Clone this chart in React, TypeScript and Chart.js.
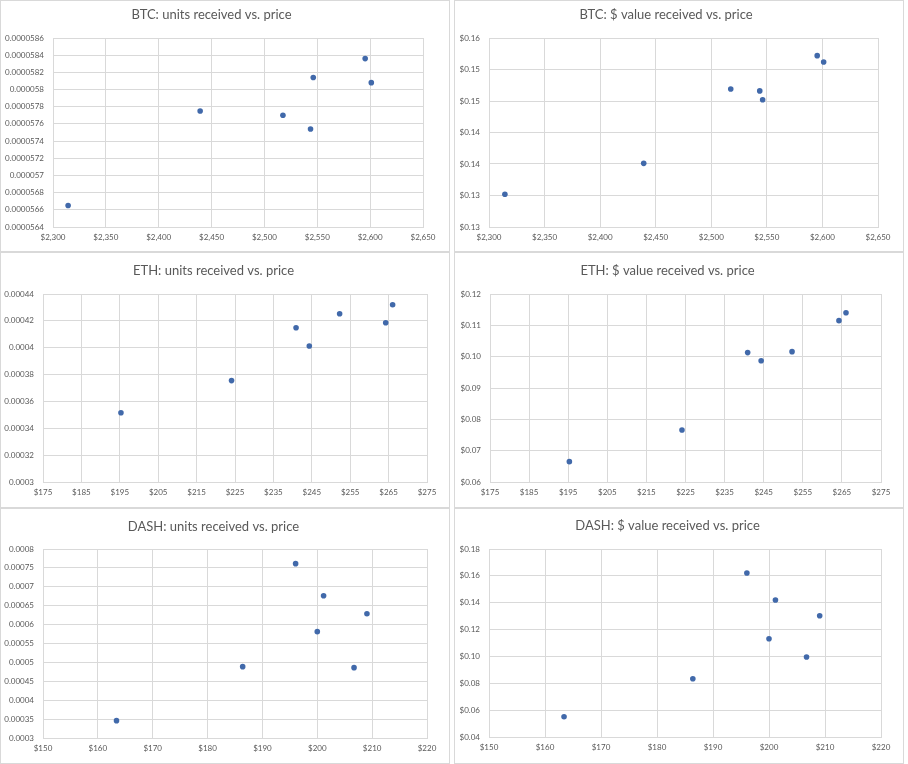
import React, { useEffect, useRef } from "react";
import { Chart, registerables } from "chart.js";

Chart.register(...registerables);

// ---------- DATA ----------
const btcPrice = [2314.3, 2439.2, 2517.5, 2543.6, 2546.2, 2595.3, 2601.1];
const btcUnits = [0.00005665, 0.00005775, 0.0000577, 0.00005754, 0.00005814, 0.00005836, 0.00005808];
const btcValue = [0.1302, 0.1351, 0.1469, 0.1466, 0.1452, 0.1522, 0.1512];

const ethPrice = [195.3, 224.1, 240.9, 244.35, 252.25, 264.25, 266.05];
const ethUnits = [0.0003516, 0.0003755, 0.0004149, 0.0004013, 0.0004253, 0.0004186, 0.000432];
const ethValue = [0.0665, 0.0766, 0.1013, 0.0987, 0.1016, 0.1115, 0.114];

const dashPrice = [163.4, 186.4, 196.05, 200.0, 201.15, 206.7, 209.05];
const dashUnits = [0.0003459, 0.0004887, 0.0007612, 0.0005813, 0.0006765, 0.0004861, 0.0006289];
const dashValue = [0.0551, 0.0834, 0.1621, 0.1132, 0.142, 0.0996, 0.1303];

const btcPriceTicks = [2300, 2350, 2400, 2450, 2500, 2550, 2600, 2650];
const btcPriceLabels = ["$2,300", "$2,350", "$2,400", "$2,450", "$2,500", "$2,550", "$2,600", "$2,650"];
const ethPriceTicks = [175, 185, 195, 205, 215, 225, 235, 245, 255, 265, 275];
const ethPriceLabels = ["$175", "$185", "$195", "$205", "$215", "$225", "$235", "$245", "$255", "$265", "$275"];
const dashPriceTicks = [150, 160, 170, 180, 190, 200, 210, 220];
const dashPriceLabels = ["$150", "$160", "$170", "$180", "$190", "$200", "$210", "$220"];

const btcUnitsTicks = [0.0000564, 0.0000566, 0.0000568, 0.000057, 0.0000572, 0.0000574, 0.0000576, 0.0000578, 0.000058, 0.0000582, 0.0000584, 0.0000586];
const btcUnitsLabels = ["0.0000564", "0.0000566", "0.0000568", "0.000057", "0.0000572", "0.0000574", "0.0000576", "0.0000578", "0.000058", "0.0000582", "0.0000584", "0.0000586"];
const btcValueTicks = [0.125, 0.13, 0.135, 0.14, 0.145, 0.15, 0.155];
const btcValueLabels = ["$0.13", "$0.13", "$0.14", "$0.14", "$0.15", "$0.15", "$0.16"];
const ethUnitsTicks = [0.0003, 0.00032, 0.00034, 0.00036, 0.00038, 0.0004, 0.00042, 0.00044];
const ethUnitsLabels = ["0.0003", "0.00032", "0.00034", "0.00036", "0.00038", "0.0004", "0.00042", "0.00044"];
const ethValueTicks = [0.06, 0.07, 0.08, 0.09, 0.1, 0.11, 0.12];
const ethValueLabels = ["$0.06", "$0.07", "$0.08", "$0.09", "$0.10", "$0.11", "$0.12"];
const dashUnitsTicks = [0.0003, 0.00035, 0.0004, 0.00045, 0.0005, 0.00055, 0.0006, 0.00065, 0.0007, 0.00075, 0.0008];
const dashUnitsLabels = ["0.0003", "0.00035", "0.0004", "0.00045", "0.0005", "0.00055", "0.0006", "0.00065", "0.0007", "0.00075", "0.0008"];
const dashValueTicks = [0.04, 0.06, 0.08, 0.1, 0.12, 0.14, 0.16, 0.18];
const dashValueLabels = ["$0.04", "$0.06", "$0.08", "$0.10", "$0.12", "$0.14", "$0.16", "$0.18"];

const titles = [
  "BTC: units received vs. price",
  "BTC: $ value received vs. price",
  "ETH: units received vs. price",
  "ETH: $ value received vs. price",
  "DASH: units received vs. price",
  "DASH: $ value received vs. price",
];

// ---------- LAYOUT / STYLE ----------
const FONT = "Lato, 'Open Sans', sans-serif";
const TEXT = "#595959";
const GRID = "#d9d9d9";
const DOT = "#4169aa";

type PanelCfg = {
  title: string;
  x: number[];
  y: number[];
  xTicks: number[];
  xLabels: string[];
  yTicks: number[];
  yLabels: string[];
  box: [number, number, number, number]; // left, top, width, height
  plot: [number, number, number, number]; // left, top, right, bottom (relative)
  titleCy: number;
};

const panels: PanelCfg[] = [
  { title: titles[0], x: btcPrice, y: btcUnits, xTicks: btcPriceTicks, xLabels: btcPriceLabels, yTicks: btcUnitsTicks, yLabels: btcUnitsLabels, box: [0, 0, 450, 252], plot: [53, 38, 423, 227], titleCy: 15 },
  { title: titles[1], x: btcPrice, y: btcValue, xTicks: btcPriceTicks, xLabels: btcPriceLabels, yTicks: btcValueTicks, yLabels: btcValueLabels, box: [454, 0, 450, 252], plot: [35, 38, 424, 227], titleCy: 15 },
  { title: titles[2], x: ethPrice, y: ethUnits, xTicks: ethPriceTicks, xLabels: ethPriceLabels, yTicks: ethUnitsTicks, yLabels: ethUnitsLabels, box: [0, 252, 450, 256], plot: [43, 42, 427, 230], titleCy: 19 },
  { title: titles[3], x: ethPrice, y: ethValue, xTicks: ethPriceTicks, xLabels: ethPriceLabels, yTicks: ethValueTicks, yLabels: ethValueLabels, box: [454, 252, 450, 256], plot: [36, 42, 427, 230], titleCy: 19 },
  { title: titles[4], x: dashPrice, y: dashUnits, xTicks: dashPriceTicks, xLabels: dashPriceLabels, yTicks: dashUnitsTicks, yLabels: dashUnitsLabels, box: [0, 508, 450, 256], plot: [43, 41, 427, 230], titleCy: 19 },
  { title: titles[5], x: dashPrice, y: dashValue, xTicks: dashPriceTicks, xLabels: dashPriceLabels, yTicks: dashValueTicks, yLabels: dashValueLabels, box: [454, 508, 450, 256], plot: [35, 41, 427, 229], titleCy: 18 },
];

function ScatterPanel({ cfg }: { cfg: PanelCfg }) {
  const ref = useRef<HTMLCanvasElement>(null);
  const [bx, by, W, H] = cfg.box;
  const [L, T, R, B] = cfg.plot;

  useEffect(() => {
    const titleSize = 13;
    const lh = titleSize * 1.2;
    const tickFont = { family: FONT, size: 8 };
    const chart = new Chart(ref.current!, {
      type: "scatter",
      data: {
        datasets: [
          {
            data: cfg.x.map((x, i) => ({ x, y: cfg.y[i] })),
            backgroundColor: DOT,
            borderColor: DOT,
            borderWidth: 0,
            pointRadius: 2.8,
            pointHoverRadius: 2.8,
          },
        ],
      },
      options: {
        responsive: false,
        animation: false,
        devicePixelRatio: 1,
        events: [],
        layout: { padding: { top: 0, left: 0, right: W - R, bottom: 0 } },
        plugins: {
          legend: { display: false },
          tooltip: { enabled: false },
          title: {
            display: true,
            text: cfg.title,
            color: TEXT,
            font: { family: FONT, size: titleSize, weight: "normal", lineHeight: 1.2 },
            padding: { top: cfg.titleCy - lh / 2, bottom: T - cfg.titleCy - lh / 2 },
          },
        },
        scales: {
          x: {
            type: "linear",
            min: cfg.xTicks[0],
            max: cfg.xTicks[cfg.xTicks.length - 1],
            afterBuildTicks: (s: any) => {
              s.ticks = cfg.xTicks.map((v) => ({ value: v }));
            },
            afterFit: (s: any) => {
              s.height = H - B;
            },
            ticks: {
              autoSkip: false,
              maxRotation: 0,
              padding: 6,
              color: TEXT,
              font: tickFont,
              callback: (_v: any, i: number) => cfg.xLabels[i],
            },
            grid: { color: GRID, lineWidth: 1, drawTicks: false },
            border: { color: GRID, width: 1 },
          },
          y: {
            type: "linear",
            min: cfg.yTicks[0],
            max: cfg.yTicks[cfg.yTicks.length - 1],
            afterBuildTicks: (s: any) => {
              s.ticks = cfg.yTicks.map((v) => ({ value: v }));
            },
            afterFit: (s: any) => {
              s.width = L;
            },
            ticks: {
              autoSkip: false,
              padding: 9,
              color: TEXT,
              font: tickFont,
              callback: (_v: any, i: number) => cfg.yLabels[i],
            },
            grid: { color: GRID, lineWidth: 1, drawTicks: false },
            border: { color: GRID, width: 1 },
          },
        },
      } as any,
    });
    return () => chart.destroy();
  }, []);

  return (
    <>
      <canvas
        ref={ref}
        width={W}
        height={H}
        style={{ position: "absolute", left: bx, top: by, width: W, height: H, display: "block" }}
      />
      <div
        style={{
          position: "absolute",
          left: bx,
          top: by,
          width: W,
          height: H,
          boxSizing: "border-box",
          border: `1px solid ${GRID}`,
          pointerEvents: "none",
        }}
      />
    </>
  );
}

export default function App() {
  return (
    <div
      style={{
        position: "absolute",
        left: 0,
        top: 0,
        width: 908,
        height: 764,
        overflow: "hidden",
        background: "#ffffff",
      }}
    >
      {panels.map((p, i) => (
        <ScatterPanel key={i} cfg={p} />
      ))}
    </div>
  );
}
